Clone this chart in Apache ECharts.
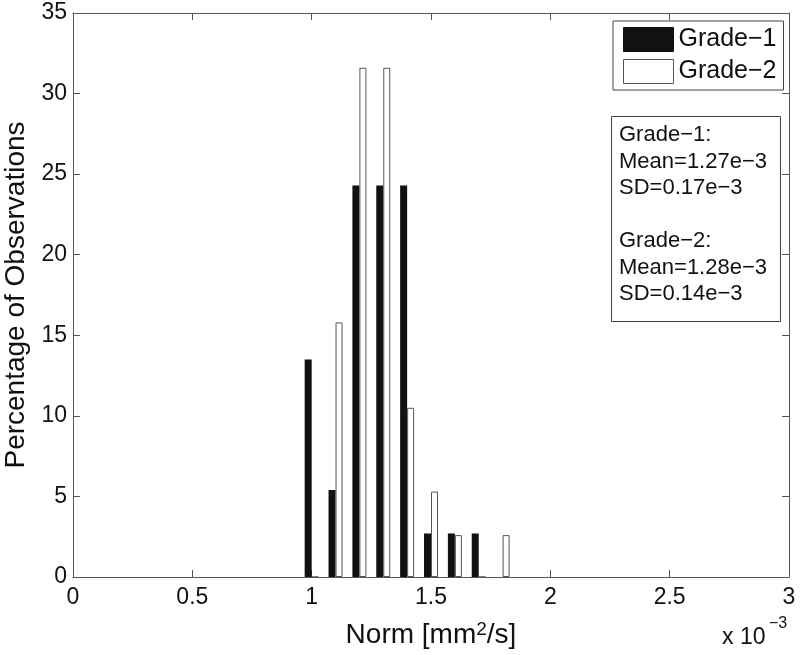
<!DOCTYPE html>
<html>
<head>
<meta charset="utf-8">
<script src="https://cdn.jsdelivr.net/npm/echarts@6/dist/echarts.min.js"></script>
<style>html,body{margin:0;padding:0;background:#fff;}#c{width:800px;height:655px;}</style>
</head>
<body>
<div id="c"></div>
<script>
const bins = [1.0, 1.1, 1.2, 1.3, 1.4, 1.5, 1.6, 1.7, 1.8];
const grade1 = [13.5, 5.4, 24.3, 24.3, 24.3, 2.7, 2.7, 2.7, 0];
const grade2 = [0, 15.8, 31.6, 31.6, 10.5, 5.3, 2.6, 0, 2.6];
const seriesNames = ['Grade\u22121', 'Grade\u22122'];
const statsLines = ['Grade\u22121:', 'Mean=1.27e\u22123', 'SD=0.17e\u22123', '', 'Grade\u22122:', 'Mean=1.28e\u22123', 'SD=0.14e\u22123'];

const FONT = 'Liberation Sans, Arial, Helvetica, sans-serif';
const AX = '#555';
const chart = echarts.init(document.getElementById('c'));

const pairs = (vals) => bins.map((b, i) => [b, vals[i]]);

const option = {
  animation: false,
  backgroundColor: '#fff',
  textStyle: { fontFamily: FONT },
  grid: { left: 73, right: 11, top: 13, bottom: 78, outerBoundsMode: 'none', containLabel: false },
  legend: {
    orient: 'vertical',
    left: 613, top: 21,
    padding: [6, 7, 6, 10],
    itemWidth: 50, itemHeight: 24, itemGap: 7,
    borderColor: '#444', borderWidth: 1,
    backgroundColor: '#fff',
    textStyle: { fontFamily: FONT, fontSize: 25, color: '#111' },
    data: [
      { name: seriesNames[0], icon: 'rect', itemStyle: { color: '#111', borderColor: '#111', borderWidth: 1 } },
      { name: seriesNames[1], icon: 'rect', itemStyle: { color: '#fff', borderColor: '#555', borderWidth: 1 } }
    ]
  },
  xAxis: [{
    type: 'value', min: 0, max: 3, interval: 0.5,
    position: 'bottom',
    axisLine: { onZero: false, lineStyle: { color: AX, width: 1 } },
    axisTick: { inside: true, length: 7, lineStyle: { color: AX } },
    splitLine: { show: false },
    axisLabel: { fontFamily: FONT, fontSize: 23, color: '#111', margin: 9 },
    name: '{a|Norm [mm}{b|2}{a|/s]}',
    nameLocation: 'middle', nameGap: 43,
    nameTextStyle: {
      rich: {
        a: { fontFamily: FONT, fontSize: 28, color: '#111', lineHeight: 30 },
        b: { fontFamily: FONT, fontSize: 19, color: '#111', verticalAlign: 'top', lineHeight: 18 }
      }
    }
  }, {
    type: 'value', min: 0, max: 3, interval: 0.5,
    position: 'top',
    axisLine: { onZero: false, lineStyle: { color: AX, width: 1 } },
    axisTick: { inside: true, length: 7, lineStyle: { color: AX } },
    splitLine: { show: false },
    axisLabel: { show: false }
  }],
  yAxis: [{
    type: 'value', min: 0, max: 35, interval: 5,
    position: 'left',
    axisLine: { show: true, onZero: false, lineStyle: { color: AX, width: 1 } },
    axisTick: { show: true, inside: true, length: 7, lineStyle: { color: AX } },
    splitLine: { show: false },
    axisLabel: { fontFamily: FONT, fontSize: 23, color: '#111', margin: 6 },
    name: 'Percentage of Observations',
    nameLocation: 'middle', nameGap: 37,
    nameTextStyle: { fontFamily: FONT, fontSize: 28, color: '#111' }
  }, {
    type: 'value', min: 0, max: 35, interval: 5,
    position: 'right',
    axisLine: { show: true, onZero: false, lineStyle: { color: AX, width: 1 } },
    axisTick: { show: true, inside: true, length: 7, lineStyle: { color: AX } },
    splitLine: { show: false },
    axisLabel: { show: false }
  }],
  series: [{
    name: seriesNames[0], type: 'bar', xAxisIndex: 0, yAxisIndex: 0,
    barWidth: 7, barGap: '0%',
    itemStyle: { color: '#111', borderColor: '#111', borderWidth: 0 },
    data: pairs(grade1)
  }, {
    name: seriesNames[1], type: 'bar', xAxisIndex: 0, yAxisIndex: 0,
    barWidth: 7, barGap: '0%',
    itemStyle: { color: '#fff', borderColor: '#555', borderWidth: 1 },
    data: pairs(grade2)
  }],
  graphic: [{
    type: 'rect', left: 611, top: 116, z: 100,
    shape: { width: 169, height: 205 },
    style: { fill: '#fff', stroke: '#444', lineWidth: 1 }
  }, {
    type: 'text', left: 619, top: 122, z: 101,
    style: { text: statsLines.join('\n'), fontFamily: FONT, fontSize: 22, lineHeight: 26.5, fill: '#111' }
  }, {
    type: 'text', x: 722, y: 638, z: 101,
    style: { text: 'x 10', fontFamily: FONT, fontSize: 23, fill: '#111', verticalAlign: 'middle', align: 'left' }
  }, {
    type: 'text', x: 769, y: 624, z: 101,
    style: { text: '\u22123', fontFamily: FONT, fontSize: 16, fill: '#111', verticalAlign: 'middle', align: 'left' }
  }]
};
chart.setOption(option);
</script>
</body>
</html>
